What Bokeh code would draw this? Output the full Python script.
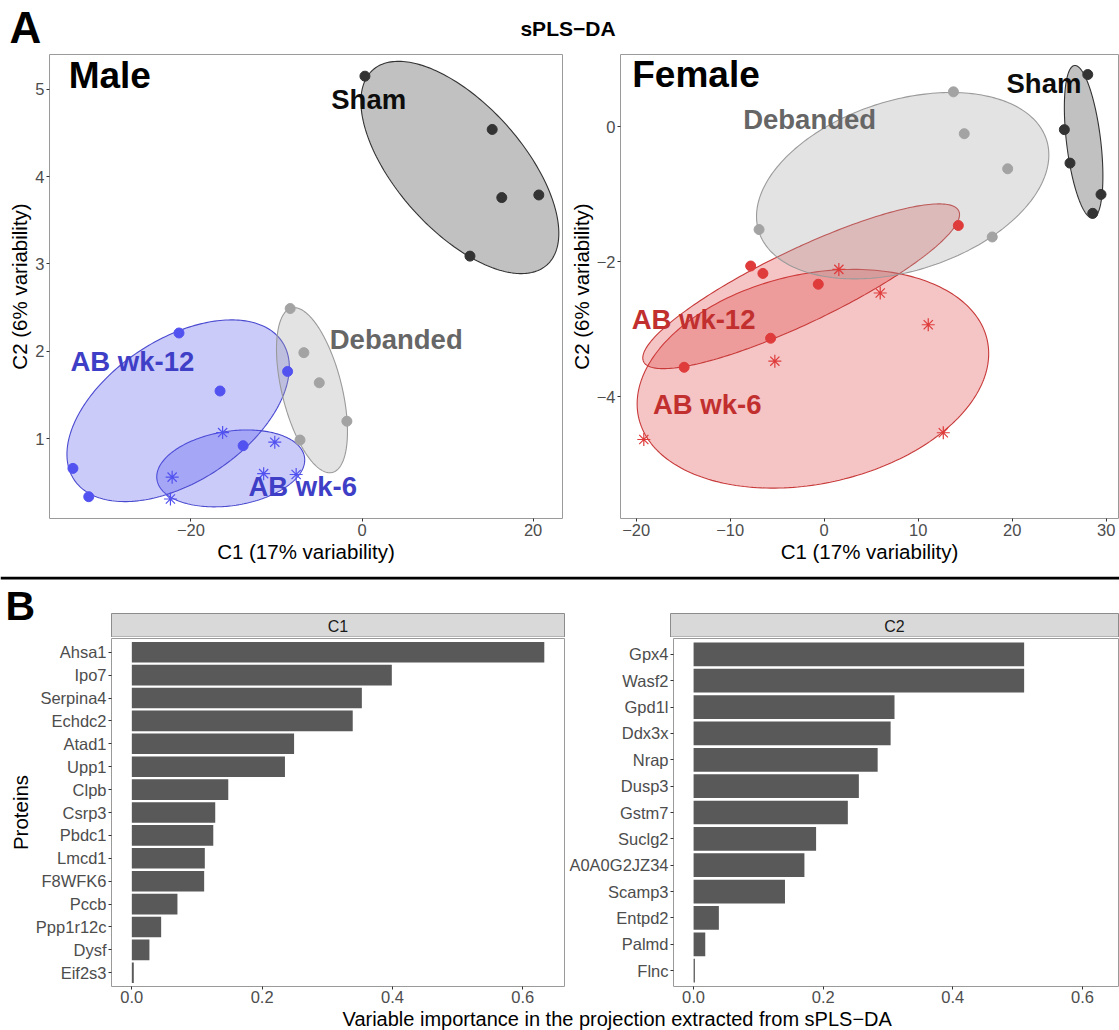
import numpy as np
from bokeh.plotting import figure
from bokeh.layouts import column, row
from bokeh.models import Range1d, FixedTicker, NumeralTickFormatter
from bokeh.core.properties import value
from bokeh.embed import file_html
from bokeh.resources import INLINE

FONT = "Liberation Sans"

# ======================= DATA =======================
# --- Panel A, Male: sPLS-DA sample scores (C1, C2)
male_sham_x = [0.34, 15.22, 16.34, 20.67, 12.62]
male_sham_y = [5.15, 4.54, 3.76, 3.79, 3.09]
male_deb_x = [-8.40, -6.80, -5.00, -1.77, -7.25]
male_deb_y = [2.49, 1.985, 1.64, 1.20, 0.985]
male_ab12_x = [-21.40, -16.60, -8.70, -13.90, -33.80, -31.95]
male_ab12_y = [2.21, 1.546, 1.77, 0.92, 0.66, 0.336]
male_ab6_x = [-16.30, -10.20, -11.50, -7.70, -22.20, -22.40]
male_ab6_y = [1.07, 0.96, 0.60, 0.59, 0.56, 0.31]

# --- Panel A, Female
fem_sham_x = [28.04, 25.55, 26.15, 29.45, 28.57]
fem_sham_y = [0.776, -0.04, -0.536, -1.00, -1.28]
fem_deb_x = [13.75, 14.90, 19.52, -6.93, 17.88]
fem_deb_y = [0.52, -0.10, -0.62, -1.52, -1.63]
fem_ab12_x = [-7.82, -6.52, -0.63, 14.27, -5.70, -14.90]
fem_ab12_y = [-2.06, -2.17, -2.33, -1.46, -3.13, -3.56]
fem_ab6_x = [1.56, 5.96, 11.07, -5.25, -19.19, 12.67]
fem_ab6_y = [-2.11, -2.46, -2.93, -3.47, -4.63, -4.53]

# confidence ellipses, group order: AB wk-6, AB wk-12, Debanded, Sham
# centre x, centre y, half extent x, half extent y, correlation
male_ell_cx = [-15.35, -21.5, -5.85, 11.44]
male_ell_cy = [0.66, 1.32, 1.555, 4.105]
male_ell_hx = [8.65, 13.0, 4.15, 11.57]
male_ell_hy = [0.44, 1.04, 0.945, 1.215]
male_ell_r = [0.22, 0.48, -0.50, -0.62]
fem_ell_cx = [-1.2, -2.45, 8.35, 27.6]
fem_ell_cy = [-3.73, -2.36, -0.87, -0.22]
fem_ell_hx = [18.7, 16.85, 15.55, 2.05]
fem_ell_hy = [1.62, 1.22, 1.38, 1.13]
fem_ell_r = [0.23, 0.87, 0.33, -0.45]

# axis ticks
male_xticks = [-20, 0, 20]
male_yticks = [1, 2, 3, 4, 5]
fem_xticks = [-20, -10, 0, 10, 20, 30]
fem_yticks = [-4, -2, 0]

# --- Panel B: variable importance
c1_names = ["Ahsa1", "Ipo7", "Serpina4", "Echdc2", "Atad1", "Upp1", "Clpb", "Csrp3",
            "Pbdc1", "Lmcd1", "F8WFK6", "Pccb", "Ppp1r12c", "Dysf", "Eif2s3"]
c1_vals = [0.633, 0.399, 0.353, 0.339, 0.249, 0.235, 0.148, 0.128,
           0.125, 0.112, 0.111, 0.070, 0.045, 0.027, 0.003]
c2_names = ["Gpx4", "Wasf2", "Gpd1l", "Ddx3x", "Nrap", "Dusp3", "Gstm7", "Suclg2",
            "A0A0G2JZ34", "Scamp3", "Entpd2", "Palmd", "Flnc"]
c2_vals = [0.510, 0.510, 0.310, 0.304, 0.284, 0.255, 0.238, 0.189,
           0.171, 0.141, 0.039, 0.018, 0.002]
bar_xticks = [0.0, 0.2, 0.4, 0.6]

# ======================= STYLE / LAYOUT =======================
W = 1119
HEAD_H = 53
TOP_H = 523
MALE_W, MALE_L, MALE_R = 564, 49, 2
FEM_W, FEM_L, FEM_R = 555, 56, 1
TOP_T, TOP_B = 1, 58
BH_H = 61
BAR_T, BAR_B = 1, 20
BAR_H = BAR_T + 348 + BAR_B
C1_W, C1_L, C1_R = 566, 111, 2
C2_W, C2_L, C2_R = 553, 104, 1
FOOT_H = 24
BASE_SHIFT = 0.33   # renderer baseline correction, in em

BLUE, BLUE_EDGE, BLUE_LAB = "#5252f0", "#4a4ad0", "#3e3ec6"
RED, RED_EDGE, RED_LAB = "#df3b3b", "#c83a3a", "#c12f2f"
GREY, GREY_EDGE, GREY_LAB = "#a3a3a3", "#9a9a9a", "#666666"
DARK, DARK_EDGE, DARK_LAB = "#333333", "#333333", "#0d0d0d"
FRAME = "#9a9a9a"


def minus(v):
    return str(v).replace("-", "\u2212")


def ellipse(cx, cy, hx, hy, r, n=240):
    t = np.linspace(0, 2 * np.pi, n)
    return cx + hx * np.cos(t), cy + hy * (r * np.cos(t) + np.sqrt(1 - r * r) * np.sin(t))


def style_axes(p):
    for ax in list(p.xaxis) + list(p.yaxis):
        ax.axis_line_color = None
        ax.major_tick_line_color = "#333333"
        ax.major_tick_out = 3
        ax.major_tick_in = 0
        ax.minor_tick_line_color = None
        ax.major_label_text_font = FONT
        ax.major_label_text_font_size = "16.5px"
        ax.major_label_text_color = "#4d4d4d"
        ax.major_label_standoff = 2
        ax.axis_label_text_font = FONT
        ax.axis_label_text_font_size = "20.5px"
        ax.axis_label_text_font_style = "normal"
        ax.axis_label_text_color = "black"
        ax.axis_label_standoff = 1
    p.grid.visible = False
    p.outline_line_color = FRAME
    p.outline_line_width = 1


def blank_fig(w, h):
    p = figure(width=w, height=h, x_range=Range1d(0, w), y_range=Range1d(h, 0),
               toolbar_location=None, output_backend="svg", title=None, tools="",
               min_border=0, x_axis_location=None, y_axis_location=None)
    p.min_border_left = p.min_border_right = p.min_border_top = p.min_border_bottom = 0
    p.grid.visible = False
    p.outline_line_color = None
    return p


def add_text(p, x, y, txt, fs, color="black", bold=True, align="left", ppu=None):
    # y is the wanted baseline; ppu=None -> pixel figure with downward y
    if ppu is None:
        yy = y - BASE_SHIFT * fs
    else:
        yy = y + BASE_SHIFT * fs / ppu
    p.text(x=[x], y=[yy], text=[txt], text_font=value(FONT), text_font_size=f"{fs}px",
           text_font_style="bold" if bold else "normal", text_color=color,
           text_align=align, text_baseline="alphabetic")


def scatter_panel(w, left, right, xr, yr, xticks, yticks, ell, pts, cols, edges, labels):
    p = figure(width=w, height=TOP_H, x_range=Range1d(*xr), y_range=Range1d(*yr),
               toolbar_location=None, output_backend="svg", title=None, tools="",
               min_border_left=left, min_border_right=right,
               min_border_top=TOP_T, min_border_bottom=TOP_B)
    ppu = (TOP_H - TOP_T - TOP_B) / (yr[1] - yr[0])
    cx, cy, hx, hy, rr = ell
    for i in range(4):
        ex, ey = ellipse(cx[i], cy[i], hx[i], hy[i], rr[i])
        p.patch(ex, ey, fill_color=cols[i], fill_alpha=0.3, line_color=edges[i], line_width=1.1)
    for i, (px, py) in enumerate(pts):
        if i == 0:
            p.scatter(px, py, marker="asterisk", size=13, line_color=cols[i], line_width=1.2)
        else:
            p.scatter(px, py, marker="circle", size=10, fill_color=cols[i], line_color=cols[i])
    p.xaxis.axis_label = "C1 (17% variability)"
    p.yaxis.axis_label = "C2 (6% variability)"
    p.xaxis.ticker = FixedTicker(ticks=xticks)
    p.yaxis.ticker = FixedTicker(ticks=yticks)
    p.xaxis.major_label_overrides = {t: minus(t) for t in xticks}
    p.yaxis.major_label_overrides = {t: minus(t) for t in yticks}
    style_axes(p)
    for (x, y, txt, fs, color, align) in labels:
        add_text(p, x, y, txt, fs, color, True, align, ppu=ppu)
    return p


# ---------------- header ----------------
head = blank_fig(W, HEAD_H)
add_text(head, 9, 41.7, "A", 44)
add_text(head, 567.5, 35, "sPLS\u2212DA", 21, align="center")

# ---------------- male ----------------
male = scatter_panel(
    MALE_W, MALE_L, MALE_R, (-36.54, 23.44), (0.0865, 5.398), male_xticks, male_yticks,
    (male_ell_cx, male_ell_cy, male_ell_hx, male_ell_hy, male_ell_r),
    [(male_ab6_x, male_ab6_y), (male_ab12_x, male_ab12_y), (male_deb_x, male_deb_y), (male_sham_x, male_sham_y)],
    [BLUE, BLUE, GREY, DARK], [BLUE_EDGE, BLUE_EDGE, GREY_EDGE, DARK_EDGE],
    [(-34.3, 5.02, "Male", 37, "black", "left"),
     (0.78, 4.78, "Sham", 27.5, DARK_LAB, "center"),
     (4.0, 2.03, "Debanded", 27.5, GREY_LAB, "center"),
     (-26.85, 1.78, "AB wk-12", 27.5, BLUE_LAB, "center"),
     (-6.93, 0.347, "AB wk-6", 27.5, BLUE_LAB, "center")])

# ---------------- female ----------------
female = scatter_panel(
    FEM_W, FEM_L, FEM_R, (-21.67, 31.31), (-5.80, 1.073), fem_xticks, fem_yticks,
    (fem_ell_cx, fem_ell_cy, fem_ell_hx, fem_ell_hy, fem_ell_r),
    [(fem_ab6_x, fem_ab6_y), (fem_ab12_x, fem_ab12_y), (fem_deb_x, fem_deb_y), (fem_sham_x, fem_sham_y)],
    [RED, RED, GREY, DARK], [RED_EDGE, RED_EDGE, GREY_EDGE, DARK_EDGE],
    [(-20.42, 0.603, "Female", 37, "black", "left"),
     (23.38, 0.505, "Sham", 27.5, DARK_LAB, "center"),
     (-1.55, -0.03, "Debanded", 27.5, GREY_LAB, "center"),
     (-13.9, -2.985, "AB wk-12", 27.5, RED_LAB, "center"),
     (-12.44, -4.25, "AB wk-6", 27.5, RED_LAB, "center")])

# ---------------- panel B header (separator, letter, strips) ----------------
bh = blank_fig(W, BH_H)
bh.quad(left=[0], right=[W], top=[0], bottom=[3], fill_color="black", line_color=None)
add_text(bh, 5, 43, "B", 41)
strip_top = 37
for (l, r, lab) in [(C1_L, C1_W - C1_R, "C1"), (C1_W + C2_L, C1_W + C2_W - C2_R, "C2")]:
    bh.quad(left=[l], right=[r], top=[strip_top], bottom=[BH_H - 0.5],
            fill_color="#d9d9d9", line_color="#8c8c8c", line_width=1)
    add_text(bh, (l + r) / 2, 55.5, lab, 16, "#1a1a1a", False, "center")


# ---------------- bars ----------------
def bar_panel(w, left, right, names, vals, xr, ylabel=None):
    n = len(names)
    ypos = list(range(n - 1, -1, -1))
    p = figure(width=w, height=BAR_H, x_range=Range1d(*xr), y_range=Range1d(-0.6, n - 1 + 0.6),
               toolbar_location=None, output_backend="svg", title=None, tools="",
               min_border_left=left, min_border_right=right,
               min_border_top=BAR_T, min_border_bottom=BAR_B)
    p.hbar(y=ypos, left=0, right=vals, height=0.9, fill_color="#595959", line_color=None)
    p.xaxis.ticker = FixedTicker(ticks=bar_xticks)
    p.xaxis.formatter = NumeralTickFormatter(format="0.0")
    p.yaxis.ticker = FixedTicker(ticks=ypos)
    p.yaxis.major_label_overrides = {yy: nm for yy, nm in zip(ypos, names)}
    if ylabel:
        p.yaxis.axis_label = ylabel
    style_axes(p)
    p.xaxis.major_label_standoff = 1
    return p


c1 = bar_panel(C1_W, C1_L, C1_R, c1_names, c1_vals, (-0.0312, 0.664), "Proteins")
c2 = bar_panel(C2_W, C2_L, C2_R, c2_names, c2_vals, (-0.031, 0.6556))

# ---------------- footer ----------------
foot = blank_fig(W, FOOT_H)
add_text(foot, 616.7, 19, "Variable importance in the projection extracted from sPLS\u2212DA",
         20, "black", False, "center")

layout = column(head, row(male, female, spacing=0), bh, row(c1, c2, spacing=0), foot, spacing=0)

open("out.html", "w").write(file_html(layout, INLINE))
